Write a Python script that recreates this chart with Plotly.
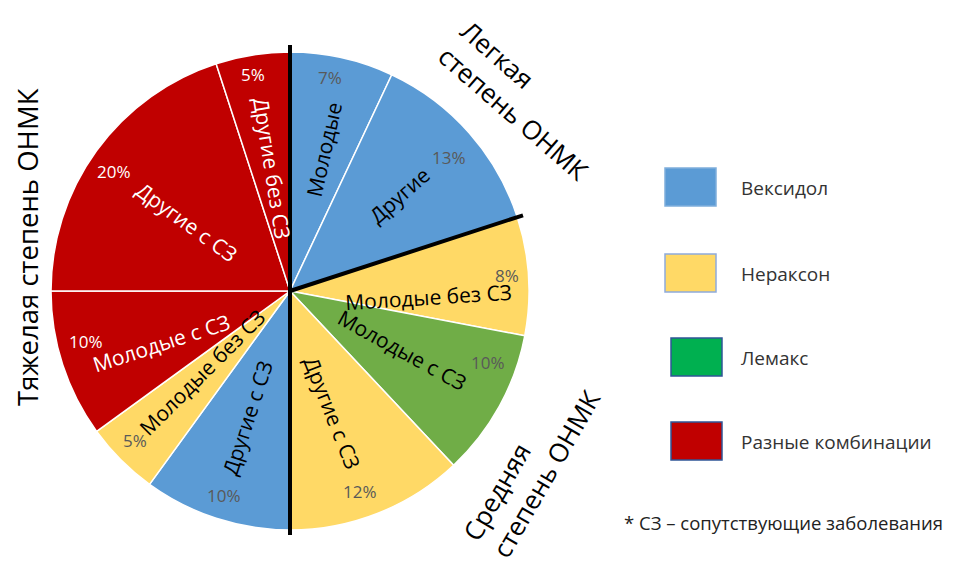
import math
import plotly.graph_objects as go

W, H = 954, 564

# ---- data ----
labels = ["Молодые", "Другие", "Молодые без СЗ", "Молодые с СЗ", "Другие с СЗ",
          "Другие с СЗ", "Молодые без СЗ", "Молодые с СЗ", "Другие с СЗ", "Другие без СЗ"]
values = [7, 13, 8, 10, 12, 10, 5, 10, 20, 5]
groups = ["Вексидол", "Вексидол", "Нераксон", "Лемакс", "Нераксон",
          "Вексидол", "Нераксон", "Разные комбинации", "Разные комбинации", "Разные комбинации"]
legend_names = ["Вексидол", "Нераксон", "Лемакс", "Разные комбинации"]
severity_bounds = [0, 20, 50]  # cumulative % where thick black separators lie

# ---- styles ----
pie_colors = {"Вексидол": "#5B9BD5", "Нераксон": "#FFD966", "Лемакс": "#70AD47",
              "Разные комбинации": "#C00000"}
legend_fill = {"Вексидол": "#5B9BD5", "Нераксон": "#FFD966", "Лемакс": "#00B050",
               "Разные комбинации": "#C00000"}
legend_border = {"Вексидол": "#7FAEDC", "Нераксон": "#8EAADB", "Лемакс": "#2F5597",
                 "Разные комбинации": "#2F5597"}
# per-slice text placement (radius fraction, angular nudge in degrees)
label_rf = [0.61, 0.61, 0.58, 0.53, 0.54, 0.56, 0.50, 0.58, 0.52, 0.52]
label_dang = [1, 0, 6, -1, 2.5, 0.7, 2, -4, -2, 0.7]
pct_rf = [0.91, 0.87, 0.91, 0.88, 0.89, 0.90, 0.90, 0.88, 0.89, 0.92]
pct_dang = [-2, 1.3, -0.6, -8.8, 2.4, 0, 1, 4, -1.8, -0.6]

FONT = "Open Sans"
CX, CY, R = 290, 291, 239  # pie center / radius in pixels


def px(x):
    return x / W


def py(y):
    return 1 - y / H


colors = [pie_colors[g] for g in groups]
lab_colors = ["white" if g == "Разные комбинации" else "black" for g in groups]
pct_colors = ["white" if g == "Разные комбинации" else "#595959" for g in groups]

domain = dict(x=[px(CX - R), px(CX + R)], y=[py(CY + R), py(CY - R)])

fig = go.Figure()
fig.add_trace(go.Pie(
    values=values, labels=[f"s{i}" for i in range(len(values))], textinfo="none",
    sort=False, direction="clockwise", rotation=0,
    marker=dict(colors=colors, line=dict(color="white", width=1.5)),
    domain=domain, hoverinfo="skip", showlegend=False,
))

shapes = []
annotations = []
total = sum(values)

# slice texts
cum = 0
for i, v in enumerate(values):
    mid = 360.0 * (cum + v / 2) / total
    cum += v
    # label (radial)
    a = math.radians(mid + label_dang[i])
    r = label_rf[i] * R
    ang = mid - 90
    if ang > 90:
        ang -= 180
    annotations.append(dict(xref="paper", yref="paper",
                            x=px(CX + r * math.sin(a)), y=py(CY - r * math.cos(a)),
                            text=labels[i], showarrow=False, textangle=ang,
                            xanchor="center", yanchor="middle",
                            font=dict(family=FONT, size=21, color=lab_colors[i])))
    # percentage (horizontal)
    a = math.radians(mid + pct_dang[i])
    r = pct_rf[i] * R
    annotations.append(dict(xref="paper", yref="paper",
                            x=px(CX + r * math.sin(a)), y=py(CY - r * math.cos(a)),
                            text=f"{v}%", showarrow=False,
                            xanchor="center", yanchor="middle",
                            font=dict(family=FONT, size=17, color=pct_colors[i])))

# thick separators
ext = {0: 7, 20: 6, 50: 5}
for b in severity_bounds:
    a = 2 * math.pi * b / total
    L = R + ext[b]
    shapes.append(dict(type="line", xref="paper", yref="paper",
                       x0=px(CX), y0=py(CY),
                       x1=px(CX + L * math.sin(a)), y1=py(CY - L * math.cos(a)),
                       line=dict(color="black", width=4)))

# legend
leg_pos = [(665, 168), (665, 254), (671, 338), (671, 422)]
for name, (lx, ly) in zip(legend_names, leg_pos):
    shapes.append(dict(type="rect", xref="paper", yref="paper",
                       x0=px(lx), x1=px(lx + 51), y0=py(ly + 38), y1=py(ly),
                       fillcolor=legend_fill[name],
                       line=dict(color=legend_border[name], width=1.5)))
    annotations.append(dict(xref="paper", yref="paper", x=px(739), y=py(ly + 20),
                            text=name, showarrow=False, xanchor="left", yanchor="middle",
                            font=dict(family=FONT, size=19, color="#333333")))

annotations.append(dict(xref="paper", yref="paper", x=px(622), y=py(522),
                        text="* СЗ – сопутствующие заболевания", showarrow=False,
                        xanchor="left", yanchor="middle",
                        font=dict(family=FONT, size=18.5, color="#222222")))

annotations.append(dict(xref="paper", yref="paper", x=px(524), y=py(100),
                        text="Легкая<br>степень ОНМК", showarrow=False, align="left",
                        textangle=41, xanchor="center", yanchor="middle",
                        font=dict(family=FONT, size=26, color="black")))
annotations.append(dict(xref="paper", yref="paper", x=px(531), y=py(466),
                        text="Средняя<br>степень ОНМК", showarrow=False, align="left",
                        textangle=-60, xanchor="center", yanchor="middle",
                        font=dict(family=FONT, size=26, color="black")))
annotations.append(dict(xref="paper", yref="paper", x=px(27), y=py(247),
                        text="Тяжелая степень ОНМК", showarrow=False,
                        textangle=-90, xanchor="center", yanchor="middle",
                        font=dict(family=FONT, size=27.5, color="black")))

fig.update_layout(
    width=W, height=H, margin=dict(l=0, r=0, t=0, b=0),
    paper_bgcolor="white", plot_bgcolor="white",
    shapes=shapes, annotations=annotations, showlegend=False,
)
fig.write_html("out.html")
